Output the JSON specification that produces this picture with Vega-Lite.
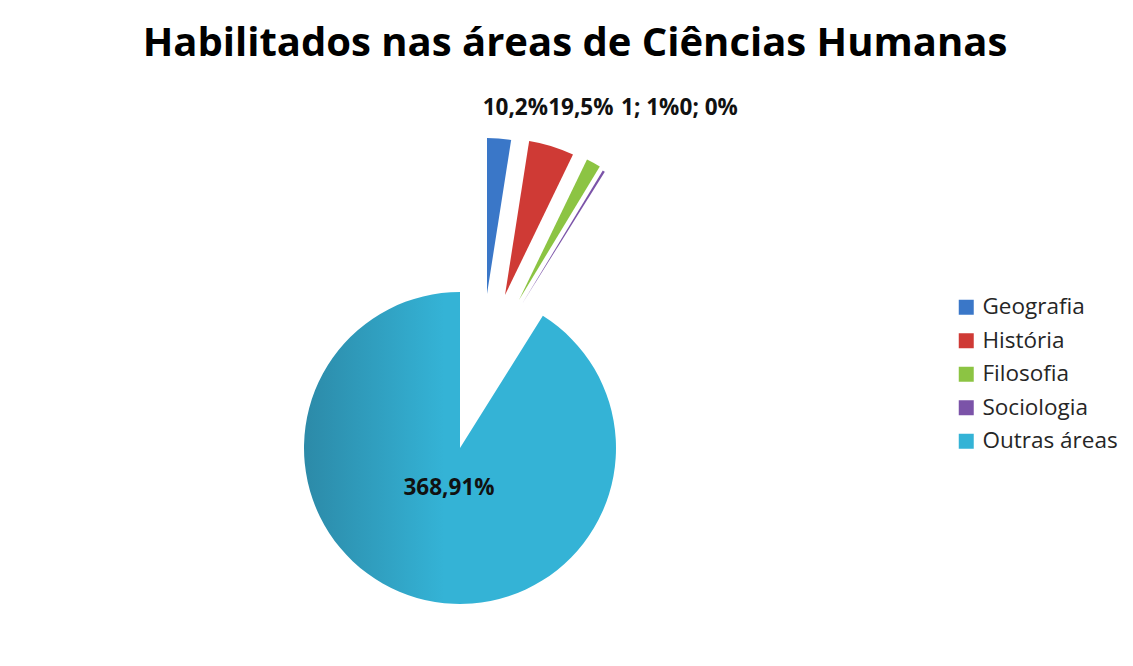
{
  "$schema": "https://vega.github.io/schema/vega-lite/v6.json",
  "autosize": {"type": "none"},
  "width": 620,
  "height": 400,
  "padding": {"left": 150, "top": 248, "right": 363, "bottom": 18},
  "background": "white",
  "config": {
    "view": {"stroke": null},
    "font": "Open Sans",
    "legend": {
      "orient": "none",
      "legendX": 805,
      "legendY": 48,
      "title": null,
      "padding": 0,
      "symbolType": "square",
      "symbolSize": 225,
      "symbolStrokeWidth": 0,
      "labelFont": "Open Sans",
      "labelFontSize": 22.5,
      "labelColor": "#262626",
      "labelOffset": 5,
      "rowPadding": 10.5
    }
  },
  "title": {
    "text": "Habilitados nas áreas de Ciências Humanas",
    "font": "Open Sans",
    "fontSize": 40,
    "fontWeight": "bold",
    "color": "#000000",
    "anchor": "middle",
    "dx": 115,
    "offset": 33
  },
  "data": {
    "values": [
      {"area": "Geografia", "value": 10, "label": "10,2%", "order": 1},
      {"area": "História", "value": 19, "label": "19,5%", "order": 2},
      {"area": "Filosofia", "value": 6, "label": "1; 1%", "order": 3},
      {"area": "Sociologia", "value": 1, "label": "0; 0%", "order": 4},
      {"area": "Outras áreas", "value": 368, "label": "368,91%", "order": 5}
    ]
  },
  "transform": [
    {"stack": "value", "groupby": [], "sort": [{"field": "order", "order": "ascending"}], "as": ["v0", "v1"]}
  ],
  "resolve": {"scale": {"theta": "shared", "color": "shared"}},
  "layer": [
    {
      "transform": [{"filter": "datum.area === 'Outras áreas'"}],
      "mark": {
        "type": "arc",
        "radius": 156,
        "fill": {
          "gradient": "linear",
          "x1": 0, "y1": 0.5, "x2": 1, "y2": 0.5,
          "stops": [
            {"offset": 0, "color": "#2C8AA8"},
            {"offset": 0.45, "color": "#34B3D6"},
            {"offset": 1, "color": "#34B3D6"}
          ]
        }
      },
      "encoding": {
        "theta": {"field": "v0", "type": "quantitative", "scale": {"domain": [0, 404], "zero": true}},
        "theta2": {"field": "v1"}
      }
    },
    {
      "transform": [{"filter": "datum.area === 'Geografia'"}],
      "mark": {"type": "arc", "radius": 156, "xOffset": 27, "yOffset": -154},
      "encoding": {
        "theta": {"field": "v0", "type": "quantitative", "scale": {"domain": [0, 404], "zero": true}},
        "theta2": {"field": "v1"},
        "color": {
          "field": "area", "type": "nominal",
          "scale": {
            "domain": ["Geografia", "História", "Filosofia", "Sociologia", "Outras áreas"],
            "range": ["#3A77C8", "#CF3A35", "#8CC443", "#7B53A8", "#34B3D6"]
          }
        }
      }
    },
    {
      "transform": [{"filter": "datum.area === 'História'"}],
      "mark": {"type": "arc", "radius": 156, "xOffset": 45, "yOffset": -153},
      "encoding": {
        "theta": {"field": "v0", "type": "quantitative", "scale": {"domain": [0, 404], "zero": true}},
        "theta2": {"field": "v1"},
        "color": {
          "field": "area", "type": "nominal",
          "scale": {
            "domain": ["Geografia", "História", "Filosofia", "Sociologia", "Outras áreas"],
            "range": ["#3A77C8", "#CF3A35", "#8CC443", "#7B53A8", "#34B3D6"]
          }
        }
      }
    },
    {
      "transform": [{"filter": "datum.area === 'Filosofia'"}],
      "mark": {"type": "arc", "radius": 156, "xOffset": 59, "yOffset": -148},
      "encoding": {
        "theta": {"field": "v0", "type": "quantitative", "scale": {"domain": [0, 404], "zero": true}},
        "theta2": {"field": "v1"},
        "color": {
          "field": "area", "type": "nominal",
          "scale": {
            "domain": ["Geografia", "História", "Filosofia", "Sociologia", "Outras áreas"],
            "range": ["#3A77C8", "#CF3A35", "#8CC443", "#7B53A8", "#34B3D6"]
          }
        }
      }
    },
    {
      "transform": [{"filter": "datum.area === 'Sociologia'"}],
      "mark": {"type": "arc", "radius": 156, "xOffset": 62, "yOffset": -144},
      "encoding": {
        "theta": {"field": "v0", "type": "quantitative", "scale": {"domain": [0, 404], "zero": true}},
        "theta2": {"field": "v1"},
        "color": {
          "field": "area", "type": "nominal",
          "scale": {
            "domain": ["Geografia", "História", "Filosofia", "Sociologia", "Outras áreas"],
            "range": ["#3A77C8", "#CF3A35", "#8CC443", "#7B53A8", "#34B3D6"]
          }
        }
      }
    },
    {
      "transform": [{"filter": "datum.area === 'Outras áreas'"}],
      "mark": {"type": "text", "radius": 0, "dx": -11, "dy": 40, "font": "Open Sans", "fontSize": 22.5, "fontWeight": "bold", "color": "#111111", "align": "center", "baseline": "middle"},
      "encoding": {
        "theta": {"field": "v1", "type": "quantitative", "scale": {"domain": [0, 404], "zero": true}},
        "text": {"field": "label"}
      }
    },
    {
      "transform": [{"filter": "datum.area === 'Geografia'"}],
      "mark": {"type": "text", "radius": 340, "dx": -30, "dy": -4, "font": "Open Sans", "fontSize": 22.5, "fontWeight": "bold", "color": "#111111", "align": "left", "baseline": "middle"},
      "encoding": {
        "theta": {"field": "v1", "type": "quantitative", "scale": {"domain": [0, 404], "zero": true}},
        "text": {"field": "label"}
      }
    },
    {
      "transform": [{"filter": "datum.area === 'História'"}],
      "mark": {"type": "text", "radius": 340, "dx": -60, "dy": -34, "font": "Open Sans", "fontSize": 22.5, "fontWeight": "bold", "color": "#111111", "align": "left", "baseline": "middle"},
      "encoding": {
        "theta": {"field": "v1", "type": "quantitative", "scale": {"domain": [0, 404], "zero": true}},
        "text": {"field": "label"}
      }
    },
    {
      "transform": [{"filter": "datum.area === 'Filosofia'"}],
      "mark": {"type": "text", "radius": 340, "dx": -15, "dy": -49, "font": "Open Sans", "fontSize": 22.5, "fontWeight": "bold", "color": "#111111", "align": "left", "baseline": "middle"},
      "encoding": {
        "theta": {"field": "v1", "type": "quantitative", "scale": {"domain": [0, 404], "zero": true}},
        "text": {"field": "label"}
      }
    },
    {
      "transform": [{"filter": "datum.area === 'Sociologia'"}],
      "mark": {"type": "text", "radius": 340, "dx": 39, "dy": -52, "font": "Open Sans", "fontSize": 22.5, "fontWeight": "bold", "color": "#111111", "align": "left", "baseline": "middle"},
      "encoding": {
        "theta": {"field": "v1", "type": "quantitative", "scale": {"domain": [0, 404], "zero": true}},
        "text": {"field": "label"}
      }
    }
  ]
}
